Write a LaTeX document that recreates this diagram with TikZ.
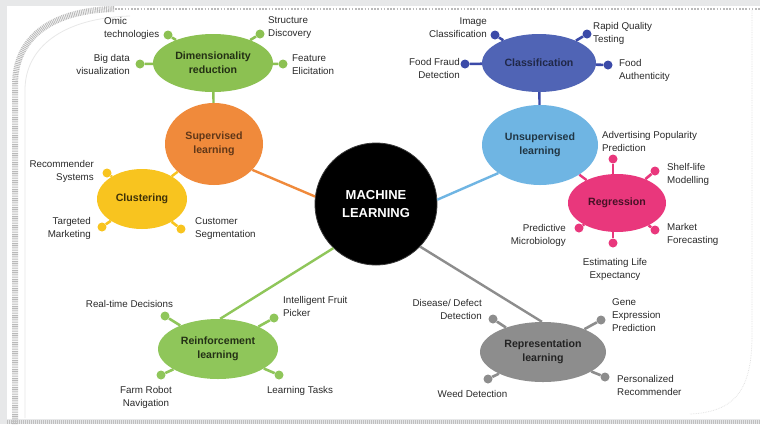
\documentclass[tikz,border=0pt]{standalone}
\usepackage{fontspec}
\setmainfont{Liberation Sans}
\usetikzlibrary{shapes.geometric}
\definecolor{bggray}{HTML}{E7E8E9}
\definecolor{dimg}{HTML}{8CC152}
\definecolor{supo}{HTML}{F08A3B}
\definecolor{cluy}{HTML}{F8C41F}
\definecolor{clsb}{HTML}{5064B5}
\definecolor{clsd}{HTML}{3B4AA8}
\definecolor{unsb}{HTML}{6FB5E3}
\definecolor{regp}{HTML}{E9377C}
\definecolor{reig}{HTML}{8FC65A}
\definecolor{repg}{HTML}{8D8D8D}
\definecolor{lblc}{HTML}{2A2A2A}
\begin{document}
\begin{tikzpicture}[x=1pt,y=-1pt,
  hub/.style={ellipse, inner sep=0pt, align=center,
    font=\fontsize{10.6}{14}\selectfont\bfseries},
  lbl/.style={font=\fontsize{9.8}{13}\selectfont, text=lblc, inner sep=0pt},
  ball/.style={circle, inner sep=0pt, minimum size=9pt, fill=#1},
  spoke/.style={line width=2.6pt, draw=#1},
  link/.style={line width=2.4pt, draw=#1}]
\useasboundingbox (0,0) rectangle (760,424);
% panel
\fill[bggray] (0,0) rectangle (760,424);
\fill[white] (7,6) rectangle (760,419);
\draw[gray!55, line width=6pt, dash pattern=on 0.9pt off 0.9pt] (15,424) -- (15,85) .. controls (15,35) and (55,10) .. (115,9);
\draw[gray!55, line width=1.6pt, dash pattern=on 1.6pt off 1.6pt] (115,9) -- (760,9);
\draw[gray!25, line width=0.7pt, densely dotted] (752,10) -- (752,335) .. controls (752,390) and (735,412) .. (690,414);
\draw[gray!50, line width=4pt, dash pattern=on 1pt off 1pt] (7,422) -- (760,422);
\draw[gray!18, line width=0.8pt] (25,418) -- (25,90) .. controls (25,48) and (62,18) .. (130,16);

% central node
\node[circle, fill=black, draw=gray!45!black, line width=0.8pt, minimum size=122pt, inner sep=0pt,
  text=white, align=center, font=\fontsize{13}{18}\selectfont\bfseries] (ml) at (376,204) {MACHINE\\LEARNING};

% main nodes
\node[hub, fill=dimg, text=dimg!25!black, minimum width=120pt, minimum height=58pt] (dim) at (213,63) {Dimensionality\\reduction};
\node[hub, fill=supo, text=supo!40!black, minimum width=98pt, minimum height=82pt] (sup) at (214,144) {Supervised\\learning};
\node[hub, fill=cluy, text=cluy!25!black, minimum width=90pt, minimum height=60pt] (clu) at (142,199) {Clustering};
\node[hub, fill=clsb, text=clsb!40!black, minimum width=114pt, minimum height=58pt] (cls) at (539,63) {Classification};
\node[hub, fill=unsb, text=unsb!30!black, minimum width=116pt, minimum height=80pt] (uns) at (540,145) {Unsupervised\\learning};
\node[hub, fill=regp, text=regp!30!black, minimum width=98pt, minimum height=58pt] (reg) at (617,203) {Regression};
\node[hub, fill=reig, text=reig!25!black, minimum width=120pt, minimum height=60pt] (rei) at (218,349) {Reinforcement\\learning};
\node[hub, fill=repg, text=repg!25!black, minimum width=126pt, minimum height=60pt] (rep) at (543,352) {Representation\\learning};

% links
\draw[link=supo] (sup.-34) -- (ml.173);
\draw[link=unsb] (uns.-146) -- (ml.4);
\draw[link=reig] (rei.86) -- (ml.-134);
\draw[link=repg] (rep.92) -- (ml.-44);
\draw[link=dimg] (dim) -- (sup);
\draw[link=clsd] (cls) -- (uns);
\draw[link=cluy] (clu) -- (sup);
\draw[link=regp] (uns) -- (reg);

% dimensionality spokes
\node[ball=dimg] (d1) at (168,35) {};
\node[ball=dimg] (d2) at (140,64) {};
\node[ball=dimg] (d3) at (260,34) {};
\node[ball=dimg] (d4) at (283,64) {};
\foreach \b in {d1,d2,d3,d4} \draw[spoke=dimg] (dim) -- (\b);
\node[lbl, anchor=west, align=left] (ld1) at (104,28) {Omic\\technologies};
\node[lbl, anchor=east, align=right] (ld2) at (130,64) {Big data\\visualization};
\node[lbl, anchor=west, align=left] (ld3) at (268,28) {Structure\\Discovery};
\node[lbl, anchor=west, align=left] (ld4) at (292,65) {Feature\\Elicitation};

% classification spokes
\node[ball=clsd] (c1) at (495,35) {};
\node[ball=clsd] (c2) at (465,64) {};
\node[ball=clsd] (c3) at (587,34) {};
\node[ball=clsd] (c4) at (608,65) {};
\foreach \b in {c1,c2,c3,c4} \draw[spoke=clsd] (cls) -- (\b);
\node[lbl, anchor=east, align=right] (lc1) at (487,28) {Image\\Classification};
\node[lbl, anchor=east, align=right] (lc2) at (460,68) {Food Fraud\\Detection};
\node[lbl, anchor=west, align=left] (lc3) at (593,33.5) {Rapid Quality\\Testing};
\node[lbl, anchor=west, align=left] (lc4) at (619,70.5) {Food\\Authenticity};

% clustering spokes
\node[ball=cluy] (k1) at (107,173) {};
\node[ball=cluy] (k2) at (102,227) {};
\node[ball=cluy] (k3) at (181,229) {};
\foreach \b in {k1,k2,k3} \draw[spoke=cluy] (clu) -- (\b);
\node[lbl, anchor=east, align=right] (lk1) at (94,171.5) {Recommender\\Systems};
\node[lbl, anchor=east, align=right] (lk2) at (91,228.5) {Targeted\\Marketing};
\node[lbl, anchor=west, align=left] (lk3) at (195,228.5) {Customer\\Segmentation};

% regression spokes
\node[ball=regp] (r1) at (613,159) {};
\node[ball=regp] (r2) at (655,171) {};
\node[ball=regp] (r3) at (655,230) {};
\node[ball=regp] (r4) at (613,243) {};
\node[ball=regp] (r5) at (579,228) {};
\draw[spoke=regp] (reg.north -| r1) -- (r1);
\draw[spoke=regp] (reg) -- (r2);
\draw[spoke=regp] (reg) -- (r3);
\draw[spoke=regp] (reg.south -| r4) -- (r4);
\draw[spoke=regp] (reg) -- (r5);
\node[lbl, anchor=west, align=left] (lr1) at (602,141.5) {Advertising Popularity\\Prediction};
\node[lbl, anchor=west, align=left] (lr2) at (667,174.5) {Shelf-life\\Modelling};
\node[lbl, anchor=west, align=left] (lr3) at (667,234.5) {Market\\Forecasting};
\node[lbl, align=center] (lr4) at (615,269) {Estimating Life\\Expectancy};
\node[lbl, anchor=east, align=right] (lr5) at (566,235) {Predictive\\Microbiology};

% reinforcement spokes
\node[ball=reig] (e1) at (165,316) {};
\node[ball=reig] (e2) at (274,318) {};
\node[ball=reig] (e3) at (161,375) {};
\node[ball=reig] (e4) at (279,375) {};
\foreach \b in {e1,e2,e3,e4} \draw[spoke=reig] (rei) -- (\b);
\node[lbl] (le1) at (129.5,304) {Real-time Decisions};
\node[lbl, anchor=west, align=left] (le2) at (283,306.5) {Intelligent Fruit\\Picker};
\node[lbl, align=center] (le3) at (146,397) {Farm Robot\\Navigation};
\node[lbl] (le4) at (300,391) {Learning Tasks};

% representation spokes
\node[ball=repg] (p1) at (493,319) {};
\node[ball=repg] (p2) at (601,320) {};
\node[ball=repg] (p3) at (488,379) {};
\node[ball=repg] (p4) at (605,377) {};
\foreach \b in {p1,p2,p3,p4} \draw[spoke=repg] (rep) -- (\b);
\node[lbl, anchor=east, align=right] (lp1) at (482,309.5) {Disease/ Defect\\Detection};
\node[lbl, anchor=west, align=left] (lp2) at (612,315) {Gene\\Expression\\Prediction};
\node[lbl] (lp3) at (472.5,394) {Weed Detection};
\node[lbl, anchor=west, align=left] (lp4) at (617,385.5) {Personalized\\Recommender};
\end{tikzpicture}
\end{document}
